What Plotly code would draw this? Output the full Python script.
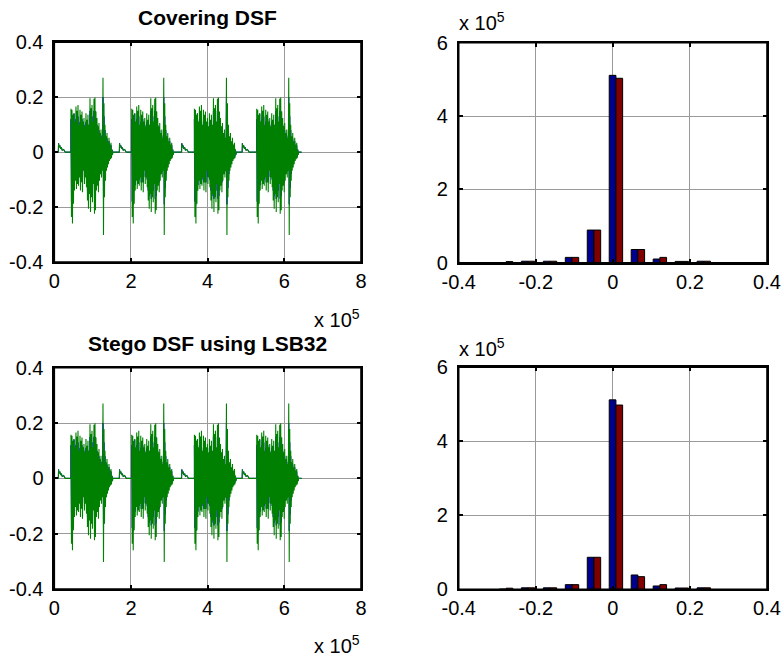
import plotly.graph_objects as go

# ---------------- data ----------------
# waveform: one burst pattern (the same sound repeats 4 times)
burst_starts = [43500, 202000, 365500, 528000]          # samples
col_offsets = [0, 2600, 5200, 7800, 10400, 13000, 15700, 18300, 20900, 23500,
               26100, 28700, 31300, 33900, 36500, 39100, 41700, 44300, 47000, 49600,
               52200, 54800, 57400, 60000, 62600, 65200, 67800, 70400, 73000, 75700,
               78300, 80900, 83500, 86100, 88700, 91300, 93900, 96500, 99100, 101700,
               104300, 107000]
green_top = [0.158, 0.154, 0.136, 0.142, 0.112, 0.166, 0.151, 0.172, 0.100, 0.154,
             0.136, 0.148, 0.112, 0.124, 0.094, 0.142, 0.118, 0.136, 0.100, 0.196,
             0.160, 0.172, 0.112, 0.194, 0.199, 0.148, 0.124, 0.094, 0.106, 0.070,
             0.082, 0.052, 0.271, 0.178, 0.100, 0.058, 0.070, 0.040, 0.052, 0.028,
             0.034, 0.010]
green_bottom = [-0.236, -0.260, -0.188, -0.140, -0.104, -0.134, -0.116, -0.122, -0.092, -0.140,
                -0.110, -0.146, -0.068, -0.116, -0.092, -0.128, -0.176, -0.206, -0.152, -0.218,
                -0.164, -0.182, -0.116, -0.224, -0.212, -0.140, -0.122, -0.146, -0.104, -0.080,
                -0.092, -0.068, -0.302, -0.164, -0.104, -0.068, -0.056, -0.044, -0.032, -0.026,
                -0.022, -0.010]
blue_top = [0.120, 0.110, 0.100, 0.140, 0.090, 0.120, 0.100, 0.130, 0.080, 0.110,
            0.100, 0.120, 0.090, 0.100, 0.080, 0.110, 0.090, 0.100, 0.080, 0.150,
            0.120, 0.130, 0.090, 0.150, 0.150, 0.110, 0.100, 0.080, 0.080, 0.060,
            0.060, 0.040, 0.200, 0.130, 0.080, 0.050, 0.050, 0.030, 0.040, 0.020,
            0.025, 0.008]
blue_bottom = [-0.180, -0.190, -0.140, -0.120, -0.080, -0.100, -0.090, -0.100, -0.070, -0.110,
               -0.090, -0.110, -0.050, -0.090, -0.070, -0.100, -0.140, -0.160, -0.120, -0.170,
               -0.130, -0.140, -0.090, -0.170, -0.160, -0.110, -0.100, -0.110, -0.080, -0.060,
               -0.070, -0.050, -0.190, -0.130, -0.080, -0.050, -0.040, -0.030, -0.025, -0.020,
               -0.015, -0.008]
blip_x = [10500, 169600, 332000, 490000]                  # small onsets in the quiet parts
blip_dx = [0, 600, 2000, 4000, 6000, 8000, 10000, 14000, 18000]
blip_y = [0.0, 0.032, 0.018, 0.024, 0.012, 0.017, 0.007, 0.010, 0.0]
signal_end = 645000

wave_xticks = [0, 200000, 400000, 600000, 800000]
wave_xlabels = ['0', '2', '4', '6', '8']
wave_yticks = [-0.4, -0.2, 0, 0.2, 0.4]
wave_ylabels = ['-0.4', '-0.2', '0', '0.2', '0.4']

# histograms (10 bins)
bin_centers = [-0.277, -0.220, -0.163, -0.106, -0.049, 0.008, 0.065, 0.122, 0.179, 0.236]
cover_blue = [500, 4000, 4000, 14500, 89000, 511000, 36000, 10000, 3500, 4000]
cover_red = [3000, 4000, 4000, 14500, 89000, 503000, 36000, 14500, 3500, 4000]
stego_blue = [500, 4000, 4000, 12600, 86500, 512000, 38700, 9000, 3500, 4000]
stego_red = [3000, 4000, 4000, 12600, 86500, 498000, 34200, 12600, 3500, 4000]
hist_xticks = [-0.4, -0.2, 0, 0.2, 0.4]
hist_xlabels = ['-0.4', '-0.2', '0', '0.2', '0.4']
hist_yticks = [0, 200000, 400000, 600000]
hist_ylabels = ['0', '2', '4', '6']

titles = ['Covering DSF', 'Stego DSF using LSB32']


def build_wave(tops, bots):
    xs, ys = [0], [0.0]
    for b, s in enumerate(burst_starts):
        bx = blip_x[b]
        for dx, v in zip(blip_dx, blip_y):
            xs.append(bx + dx)
            ys.append(v)
        xs.append(s)
        ys.append(0.0)
        for off, t, d in zip(col_offsets, tops, bots):
            xs.append(s + off)
            ys.append(t)
            xs.append(s + off + 1300)
            ys.append(d)
        xs.append(s + col_offsets[-1] + 2000)
        ys.append(0.0)
    xs.append(signal_end)
    ys.append(0.0)
    return xs, ys


FONT = 'Liberation Sans'
fig = go.Figure()

W, H = 784, 659
# plot boxes in pixels (left, right, top, bottom)
boxes = {
    1: (54.3, 361.0, 42.3, 262.0),
    2: (458.7, 767.0, 42.7, 262.7),
    3: (54.3, 361.0, 367.7, 589.0),
    4: (458.7, 767.0, 367.3, 589.3),
}


def dom(b):
    l, r, t, btm = b
    return [l / W, r / W], [1 - btm / H, 1 - t / H]


gx_b, gy_b = build_wave(blue_top, blue_bottom)
gx_g, gy_g = build_wave(green_top, green_bottom)

for row in (0, 1):
    wi = 1 + 2 * row
    hi = 2 + 2 * row
    xa = 'x' if wi == 1 else f'x{wi}'
    ya = 'y' if wi == 1 else f'y{wi}'
    fig.add_trace(go.Scatter(x=gx_b, y=gy_b, mode='lines', line=dict(color='#0000FF', width=1),
                             xaxis=xa, yaxis=ya, showlegend=False, hoverinfo='skip'))
    fig.add_trace(go.Scatter(x=gx_g, y=gy_g, mode='lines', line=dict(color='#008000', width=1.1),
                             xaxis=xa, yaxis=ya, showlegend=False, hoverinfo='skip'))
    hb = cover_blue if row == 0 else stego_blue
    hr = cover_red if row == 0 else stego_red
    fig.add_trace(go.Bar(x=bin_centers, y=hb, marker=dict(color='#00008F', line=dict(color='black', width=1)),
                         xaxis=f'x{hi}', yaxis=f'y{hi}', showlegend=False))
    fig.add_trace(go.Bar(x=bin_centers, y=hr, marker=dict(color='#800000', line=dict(color='black', width=1)),
                         xaxis=f'x{hi}', yaxis=f'y{hi}', showlegend=False))

axis_common = dict(showgrid=True, gridcolor='#9a9a9a', gridwidth=1, zeroline=False,
                   showline=True, linecolor='black', linewidth=1.6, mirror='ticks',
                   ticks='inside', ticklen=4, tickcolor='black', tickwidth=1.5,
                   automargin=False,
                   tickfont=dict(family=FONT, size=20, color='black'))

layout = dict(width=W, height=H, margin=dict(l=0, r=0, t=0, b=0, pad=0),
              paper_bgcolor='white', plot_bgcolor='white',
              barmode='group', bargap=0.39, bargroupgap=0.0)

shapes = []
for i in (1, 2, 3, 4):
    xd, yd = dom(boxes[i])
    xk = 'xaxis' if i == 1 else f'xaxis{i}'
    yk = 'yaxis' if i == 1 else f'yaxis{i}'
    xanchor = 'y' if i == 1 else f'y{i}'
    yanchor = 'x' if i == 1 else f'x{i}'
    if i in (1, 3):
        layout[xk] = dict(axis_common, domain=xd, anchor=xanchor, range=[0, 800000],
                          tickmode='array', tickvals=wave_xticks, ticktext=wave_xlabels)
        layout[yk] = dict(axis_common, domain=yd, anchor=yanchor, range=[-0.4, 0.4],
                          tickmode='array', tickvals=wave_yticks, ticktext=wave_ylabels,
                          ticklabelstandoff=5)
    else:
        layout[xk] = dict(axis_common, domain=xd, anchor=xanchor, range=[-0.4, 0.4],
                          tickmode='array', tickvals=hist_xticks, ticktext=hist_xlabels)
        layout[yk] = dict(axis_common, domain=yd, anchor=yanchor, range=[0, 600000],
                          tickmode='array', tickvals=hist_yticks, ticktext=hist_ylabels,
                          ticklabelstandoff=5)
    # black frame around each axes box
    shapes.append(dict(type='rect', xref=f'{yanchor} domain', yref=f'{xanchor} domain',
                       x0=0, x1=1, y0=0, y1=1, line=dict(color='black', width=1.6),
                       fillcolor='rgba(0,0,0,0)', layer='above'))

fig.update_layout(**layout)
fig.update_layout(shapes=shapes)

ann = []
# titles
ann.append(dict(text='<b>' + titles[0] + '</b>', x=207.7 / W, y=1 - 17.5 / H, xref='paper', yref='paper',
                xanchor='center', yanchor='middle', showarrow=False,
                font=dict(family=FONT, size=21, color='black')))
ann.append(dict(text='<b>' + titles[1] + '</b>', x=207.7 / W, y=1 - 343.5 / H, xref='paper', yref='paper',
                xanchor='center', yanchor='middle', showarrow=False,
                font=dict(family=FONT, size=21, color='black')))
# exponent labels
for (xp, yp, xa) in [(362 / W, 1 - 318 / H, 'right'), (362 / W, 1 - 644 / H, 'right'),
                     (457 / W, 1 - 22 / H, 'left'), (457 / W, 1 - 347 / H, 'left')]:
    ann.append(dict(text='x 10<sup>5</sup>', x=xp, y=yp, xref='paper', yref='paper',
                    xanchor=xa, yanchor='middle', showarrow=False,
                    font=dict(family=FONT, size=20, color='black')))
fig.update_layout(annotations=ann)

fig.write_html('out.html', config={'displayModeBar': False},
               post_script="document.body.style.margin='0';")
